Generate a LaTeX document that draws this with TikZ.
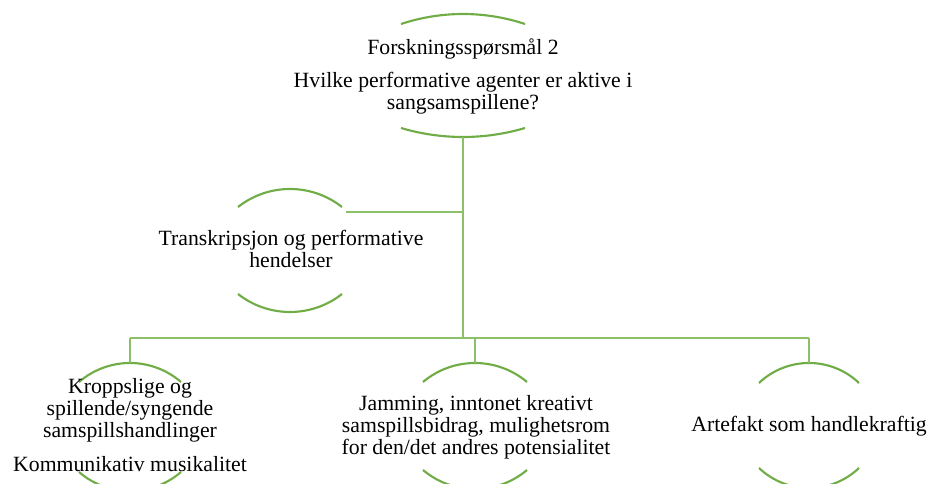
\documentclass[tikz,border=0pt]{standalone}
\usepackage{fontspec}
\setmainfont{Liberation Serif}
\definecolor{arcgreen}{HTML}{70AD47}
\definecolor{linkgreen}{HTML}{8CC068}

% One circular rim arc as a cubic: centre x, half chord, end y, apex y
\newcommand\rimarc[4]{%
  \pgfmathsetmacro\rs{#4-#3}%
  \pgfmathsetmacro\rt{2*atan(abs(\rs)/#2)}%
  \pgfmathsetmacro\rr{#2/sin(\rt)}%
  \pgfmathsetmacro\rk{4/3*tan(\rt/2)*\rr}%
  \pgfmathsetmacro\rdx{\rk*cos(\rt)}%
  \pgfmathsetmacro\rdy{\rk*sin(\rt)*\rs/abs(\rs)}%
  \draw[rim] ({#1-#2},#3) .. controls ({#1-#2+\rdx},{#3+\rdy}) and ({#1+#2-\rdx},{#3+\rdy}) .. ({#1+#2},#3);
}

\begin{document}
\begin{tikzpicture}[x=0.75pt,y=-0.75pt,
  rim/.style={draw=arcgreen,line width=1.6pt},
  link/.style={draw=linkgreen,line width=1.9pt},
  txt/.style={font=\fontsize{16.3}{16.5}\selectfont,align=center,inner sep=0pt,anchor=base}]
\useasboundingbox (0,0) rectangle (929,484);
\clip (0,0) rectangle (929,484);

% rims: top and bottom of each item
\rimarc{463}{62}{24}{14}
\rimarc{463}{62}{128}{137}
\rimarc{290}{52}{207}{189}
\rimarc{290}{52}{294}{312}
\rimarc{130}{51}{382}{363}
\rimarc{130}{51}{472}{491}
\rimarc{475}{52}{382}{363}
\rimarc{475}{52}{470}{489}
\rimarc{809}{50}{383}{363}
\rimarc{809}{50}{468}{488}

% anchor points of the connectors
\coordinate (rootB) at (463,137);
\coordinate (hub) at (463,212);
\coordinate (bus) at (463,338);
\coordinate (busL) at (130,338);
\coordinate (busM) at (475,338);
\coordinate (busR) at (809,338);
\coordinate (tranR) at (346,212);
\coordinate (kropT) at (130,363);
\coordinate (jamT) at (475,363);
\coordinate (artT) at (809,363);

% texts (anchored at the baseline of their last line)
\node[txt] (rootQ) at (463,55) {Forskningsspørsmål 2};
\node[txt] (rootT) at (463,110) {Hvilke performative agenter er aktive i\\sangsamspillene?};
\node[txt] (tran) at (291,268) {Transkripsjon og performative\\hendelser};
\node[txt] (krop) at (130,438) {Kroppslige og\\spillende/syngende\\samspillshandlinger};
\node[txt] (komm) at (130,472) {Kommunikativ musikalitet};
\node[txt] (jam) at (476,455) {Jamming, inntonet kreativt\\samspillsbidrag, mulighetsrom\\for den/det andres potensialitet};
\node[txt] (art) at (809,432) {Artefakt som handlekraftig};

% connectors
\draw[link] (rootB) -- (bus);
\draw[link] (tranR) -- (hub);
\draw[link] (busL) -- (busR);
\draw[link] (busL) -- (kropT);
\draw[link] (busM) -- (jamT);
\draw[link] (busR) -- (artT);
\end{tikzpicture}
\end{document}
